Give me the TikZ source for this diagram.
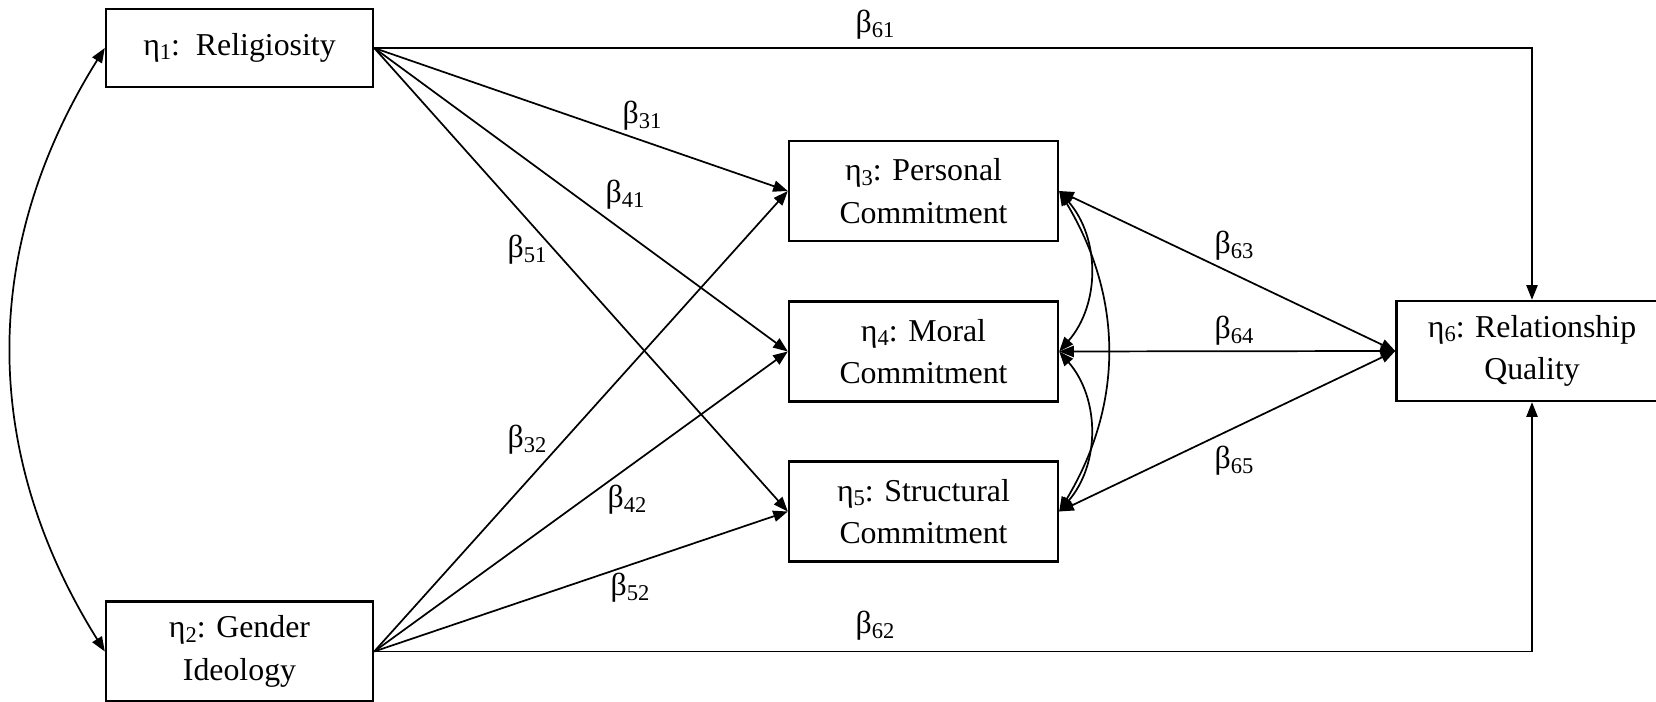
\documentclass[tikz,border=0pt]{standalone}
\usepackage{fontspec}
\setmainfont{Liberation Serif}
\usetikzlibrary{arrows.meta}

\newcommand{\lsub}[1]{\raisebox{-0.3ex}{\fontsize{8.5}{9}\selectfont #1}}

\begin{document}
\begin{tikzpicture}[x=0.377pt, y=-0.377pt, >={Triangle[length=5.5pt,width=4.2pt]}]
    % 1. Frame and styles
    \def\px{0.377pt}
    \useasboundingbox (0,0) rectangle (1656,702);
    \tikzset{
        latent/.style={draw, line width=0.9pt, align=center, inner sep=0pt,
            minimum width={269*\px}, minimum height={100*\px},
            font=\fontsize{12}{16}\selectfont},
        effect/.style={line width=0.65pt, ->},
        coef/.style={font=\fontsize{12}{14}\selectfont, inner sep=1pt}
    }

    % 2. Latent variables
    \node[latent, minimum width={267*\px}, minimum height={78*\px}] (eta1) at (239.5,48) {η\lsub{1}:~~Religiosity};
    \node[latent, minimum width={267*\px}] (eta2) at (239.5,651.5) {η\lsub{2}: Gender\\Ideology};
    \node[latent] (eta3) at (923.5,191) {η\lsub{3}: Personal\\Commitment};
    \node[latent] (eta4) at (923.5,351.5) {η\lsub{4}: Moral\\Commitment};
    \node[latent] (eta5) at (923.5,511.5) {η\lsub{5}: Structural\\Commitment};
    \node[latent, minimum width={271*\px}] (eta6) at (1532,351) {η\lsub{6}: Relationship\\Quality};

    % 3. Direct paths to relationship quality
    \draw[effect] (eta1.east) -- (eta1.east -| eta6.north) -- (eta6.north);
    \draw[effect] (eta2.east) -- (eta2.east -| eta6.south) -- (eta6.south);

    % Paths to the three commitments
    \draw[effect] (eta1.east) -- (eta3.west);
    \draw[effect] (eta1.east) -- (eta4.west);
    \draw[effect] (eta1.east) -- (eta5.west);
    \draw[effect] (eta2.east) -- (eta3.west);
    \draw[effect] (eta2.east) -- (eta4.west);
    \draw[effect] (eta2.east) -- (eta5.west);

    % Reciprocal paths with relationship quality
    \draw[effect, <->] (eta6.west) -- (eta3.east);
    \draw[effect, <->] (eta6.west) -- (eta4.east);
    \draw[effect, <->] (eta6.west) -- (eta5.east);

    % Correlations
    \draw[effect, <->] (eta1.west) to[bend right=32] (eta2.west);
    \draw[effect, <->] (eta3.east) to[bend left=41] (eta4.east);
    \draw[effect, <->] (eta4.east) to[bend left=41] (eta5.east);
    \draw[effect, <->] (eta3.east) to[bend left=31] (eta5.east);

    % 4. Coefficient labels
    \node[coef] (b61) at (875,25) {β\lsub{61}};
    \node[coef] (b31) at (642,116) {β\lsub{31}};
    \node[coef] (b41) at (625,195) {β\lsub{41}};
    \node[coef] (b51) at (527,250) {β\lsub{51}};
    \node[coef] (b32) at (527,440) {β\lsub{32}};
    \node[coef] (b42) at (627,500) {β\lsub{42}};
    \node[coef] (b52) at (630,588) {β\lsub{52}};
    \node[coef] (b62) at (875,626) {β\lsub{62}};
    \node[coef] (b63) at (1234,246) {β\lsub{63}};
    \node[coef] (b64) at (1234,331) {β\lsub{64}};
    \node[coef] (b65) at (1234,461) {β\lsub{65}};

\end{tikzpicture}
\end{document}
